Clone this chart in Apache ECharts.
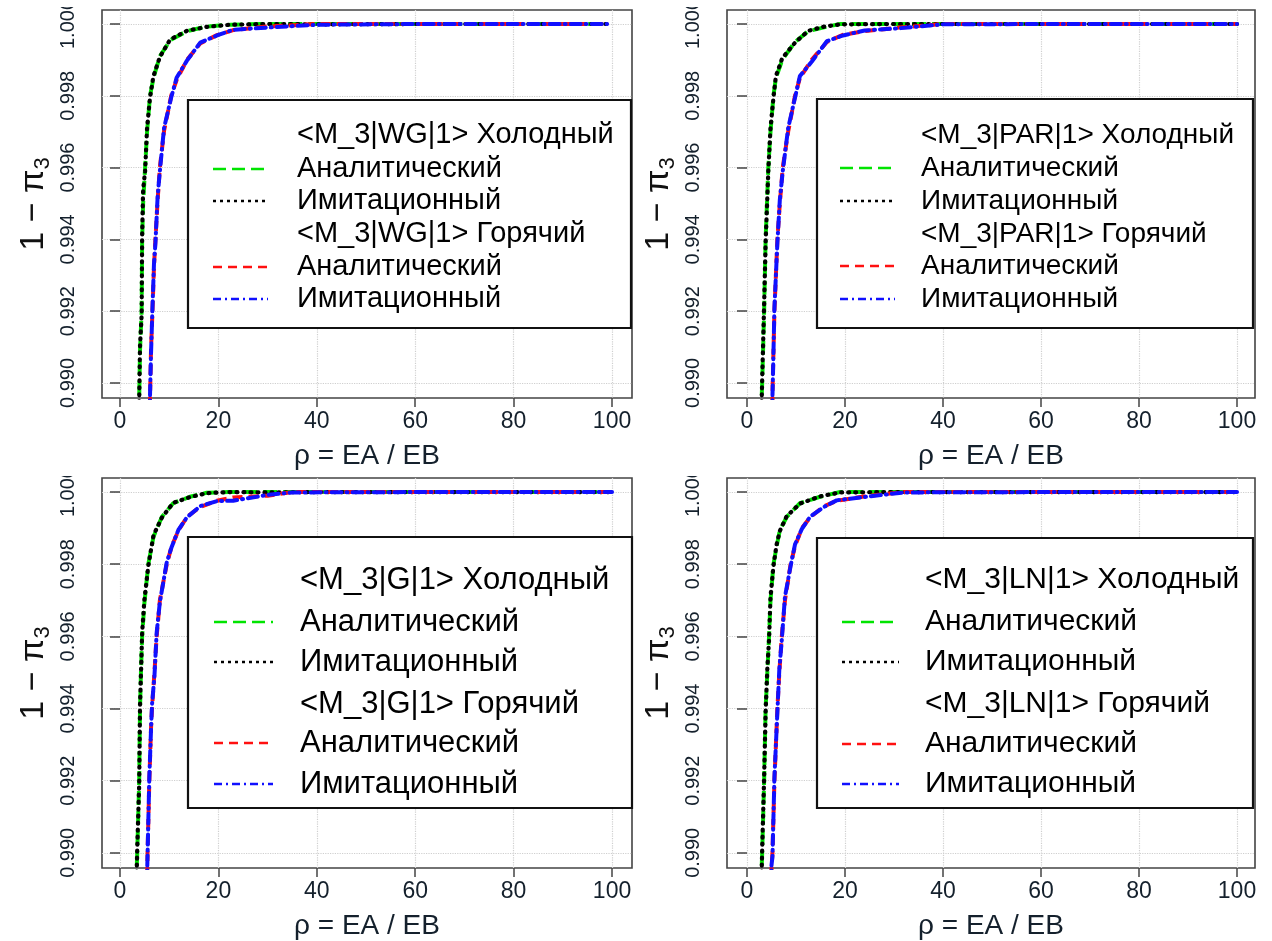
<!DOCTYPE html>
<html><head><meta charset="utf-8">
<script src="https://cdn.jsdelivr.net/npm/echarts@6/dist/echarts.min.js"></script>
<style>html,body{margin:0;padding:0;background:#fff}#c{width:1272px;height:941px}</style>
</head><body><div id="c"></div>
<script>
// ---------------- DATA ----------------
const xTicks = [0, 20, 40, 60, 80, 100];
const yTicks = [0.990, 0.992, 0.994, 0.996, 0.998, 1.000];

const coldTitles = ['<M_3|WG|1> Холодный', '<M_3|PAR|1> Холодный', '<M_3|G|1> Холодный', '<M_3|LN|1> Холодный'];
const hotTitles  = ['<M_3|WG|1> Горячий', '<M_3|PAR|1> Горячий', '<M_3|G|1> Горячий', '<M_3|LN|1> Горячий'];
const methodNames = ['Аналитический', 'Имитационный'];

// Panel 1: WG
const rhoColdWG = [3.7, 3.9, 4.07, 4.4, 4.5, 4.7, 5.1, 5.5, 6.1, 6.8, 8.1, 10.2, 13.6, 17.6, 22.4, 30, 40, 60, 80, 99];
const anaColdWG = [0.98800, 0.98958, 0.99092, 0.99200, 0.99400, 0.99500, 0.99600, 0.99700, 0.99800, 0.99850, 0.99910, 0.99955, 0.99980, 0.99993, 0.99998, 1.00000, 1.00000, 1.00000, 1.00000, 1.00000];
const simColdWG = [0.98790, 0.98950, 0.99105, 0.99190, 0.99410, 0.99540, 0.99590, 0.99710, 0.99795, 0.99855, 0.99908, 0.99957, 0.99981, 0.99992, 0.99998, 1.00000, 0.99999, 1.00000, 1.00000, 1.00000];
const rhoHotWG  = [5.9, 6.1, 6.3, 6.6, 6.9, 7.2, 7.65, 8.1, 8.95, 10.4, 11.5, 13.6, 16.3, 19.7, 23.0, 29.8, 40, 60, 80, 99];
const anaHotWG  = [0.98800, 0.98958, 0.99092, 0.99200, 0.99323, 0.99400, 0.99510, 0.99600, 0.99702, 0.99800, 0.99844, 0.99900, 0.99946, 0.99969, 0.99983, 0.99993, 1.00000, 1.00000, 1.00000, 1.00000];
const simHotWG  = [0.98790, 0.98965, 0.99080, 0.99210, 0.99330, 0.99390, 0.99520, 0.99590, 0.99710, 0.99795, 0.99850, 0.99898, 0.99948, 0.99968, 0.99984, 0.99990, 0.99998, 1.00000, 1.00000, 1.00000];

// Panel 2: PAR
const rhoColdPAR = [2.8, 3.0, 3.1, 3.5, 3.8, 4.35, 4.8, 5.4, 5.9, 7.2, 9.8, 12.5, 15.5, 19, 30, 40, 60, 80, 100];
const anaColdPAR = [0.98800, 0.98958, 0.99000, 0.99200, 0.99400, 0.99600, 0.99700, 0.99800, 0.99850, 0.99900, 0.99950, 0.99980, 0.99990, 1.00000, 1.00000, 1.00000, 1.00000, 1.00000, 1.00000];
const simColdPAR = [0.98790, 0.98950, 0.99010, 0.99220, 0.99390, 0.99590, 0.99710, 0.99795, 0.99855, 0.99905, 0.99948, 0.99981, 0.99992, 0.99999, 1.00000, 1.00000, 1.00000, 1.00000, 1.00000];
const rhoHotPAR  = [5.0, 5.2, 5.25, 5.6, 6.2, 6.7, 7.3, 8.4, 9.8, 10.8, 13.2, 16.3, 19.6, 24, 31, 40, 60, 80, 100];
const anaHotPAR  = [0.98800, 0.98958, 0.99000, 0.99200, 0.99400, 0.99500, 0.99600, 0.99700, 0.99800, 0.99850, 0.99900, 0.99950, 0.99970, 0.99980, 0.99990, 1.00000, 1.00000, 1.00000, 1.00000];
const simHotPAR  = [0.98790, 0.98965, 0.98990, 0.99210, 0.99390, 0.99510, 0.99590, 0.99710, 0.99795, 0.99855, 0.99895, 0.99952, 0.99968, 0.99982, 0.99988, 0.99999, 1.00000, 1.00000, 1.00000];

// Panel 3: G
const rhoColdG = [3.3, 3.4, 3.5, 3.9, 4.07, 4.27, 4.5, 4.95, 5.75, 6.8, 8.5, 10.8, 14.2, 17.6, 22, 30, 40, 60, 80, 100];
const anaColdG = [0.98800, 0.98958, 0.99000, 0.99200, 0.99400, 0.99506, 0.99600, 0.99691, 0.99800, 0.99876, 0.99931, 0.99969, 0.99987, 0.99998, 1.00000, 1.00000, 1.00000, 1.00000, 1.00000, 1.00000];
const simColdG = [0.98790, 0.98950, 0.99010, 0.99190, 0.99410, 0.99500, 0.99610, 0.99700, 0.99795, 0.99880, 0.99929, 0.99970, 0.99986, 0.99997, 1.00000, 0.99999, 1.00000, 1.00000, 1.00000, 1.00000];
const rhoHotG  = [5.45, 5.55, 5.6, 5.96, 6.3, 6.5, 7.0, 7.45, 8.1, 9.5, 10.5, 11.9, 13.6, 16.3, 19.7, 23, 30, 35, 60, 80, 100];
const anaHotG  = [0.98800, 0.98958, 0.99000, 0.99200, 0.99344, 0.99400, 0.99500, 0.99600, 0.99700, 0.99800, 0.99850, 0.99894, 0.99931, 0.99959, 0.99976, 0.99985, 0.99990, 1.00000, 1.00000, 1.00000, 1.00000];
const simHotG  = [0.98790, 0.98965, 0.98995, 0.99210, 0.99340, 0.99410, 0.99490, 0.99610, 0.99695, 0.99805, 0.99848, 0.99896, 0.99930, 0.99961, 0.99975, 0.99976, 0.99992, 0.99999, 1.00000, 1.00000, 1.00000];

// Panel 4: LN
const rhoColdLN = [2.9, 3.0, 3.1, 3.5, 3.8, 4.15, 4.5, 4.8, 5.4, 6.05, 6.7, 8.1, 10.8, 14.9, 19, 30, 40, 60, 80, 100];
const anaColdLN = [0.98800, 0.98958, 0.99000, 0.99200, 0.99400, 0.99500, 0.99600, 0.99700, 0.99800, 0.99850, 0.99894, 0.99931, 0.99969, 0.99987, 1.00000, 1.00000, 1.00000, 1.00000, 1.00000, 1.00000];
const simColdLN = [0.98790, 0.98950, 0.99010, 0.99210, 0.99390, 0.99510, 0.99590, 0.99710, 0.99795, 0.99855, 0.99892, 0.99933, 0.99968, 0.99988, 0.99999, 1.00000, 1.00000, 1.00000, 1.00000, 1.00000];
const rhoHotLN  = [4.9, 5.0, 5.2, 5.6, 6.2, 6.6, 7.1, 7.75, 8.9, 9.8, 11.2, 12.9, 15.6, 18.3, 25, 32, 60, 80, 100];
const anaHotLN  = [0.98800, 0.98958, 0.99000, 0.99200, 0.99400, 0.99500, 0.99600, 0.99700, 0.99800, 0.99850, 0.99900, 0.99930, 0.99960, 0.99976, 0.99990, 1.00000, 1.00000, 1.00000, 1.00000];
const simHotLN  = [0.98790, 0.98965, 0.98990, 0.99210, 0.99390, 0.99510, 0.99590, 0.99710, 0.99795, 0.99855, 0.99898, 0.99932, 0.99958, 0.99977, 0.99988, 0.99999, 1.00000, 1.00000, 1.00000];

// ---------------- LAYOUT ----------------
const panelData = [
  {rc: rhoColdWG,  ac: anaColdWG,  sc: simColdWG,  rh: rhoHotWG,  ah: anaHotWG,  sh: simHotWG},
  {rc: rhoColdPAR, ac: anaColdPAR, sc: simColdPAR, rh: rhoHotPAR, ah: anaHotPAR, sh: simHotPAR},
  {rc: rhoColdG,   ac: anaColdG,   sc: simColdG,   rh: rhoHotG,   ah: anaHotG,   sh: simHotG},
  {rc: rhoColdLN,  ac: anaColdLN,  sc: simColdLN,  rh: rhoHotLN,  ah: anaHotLN,  sh: simHotLN}
];
const layout = [
  {left: 102, top: 10,  width: 530, height: 388, xmin: -3.66, xmax: 104.06,
   lg: {x: 188, y: 100, w: 443, h: 228, tx: 297, s1: 213, s2: 268, fs: 29, rows: [135, 169, 201, 234, 267, 299]}, clipY: [0, 7]},
  {left: 727, top: 10,  width: 528, height: 388, xmin: -4.08, xmax: 103.67,
   lg: {x: 817, y: 99, w: 436, h: 229, tx: 921, s1: 840, s2: 895, fs: 28, rows: [135, 168, 201, 234, 266, 299]}, clipY: [0, 7]},
  {left: 102, top: 478, width: 530, height: 390, xmin: -3.66, xmax: 104.06,
   lg: {x: 188, y: 537, w: 444, h: 271, tx: 300, s1: 214, s2: 273, fs: 31, rows: [580, 622, 662, 704, 743, 784]}, clipY: [455, 476]},
  {left: 727, top: 478, width: 528, height: 390, xmin: -4.08, xmax: 103.67,
   lg: {x: 817, y: 538, w: 436, h: 270, tx: 925, s1: 842, s2: 899, fs: 30, rows: [580, 622, 662, 704, 744, 784]}, clipY: [455, 476]}
];

const FONT = "'Liberation Sans', Arial, sans-serif";
const styles = {
  green: {color: '#00e400', width: 4, type: [14, 6]},
  black: {color: '#000000', width: 4.2, type: [1, 6], cap: 'round'},
  red:   {color: '#ff1010', width: 4, type: [10, 6]},
  blue:  {color: '#1010ff', width: 4, type: [10, 5, 1, 5], cap: 'round'}
};
const legendDash = {green: [13, 6], black: [3, 4], red: [9, 6], blue: [8, 4, 2, 4]};
const zip = (xs, ys) => xs.map((x, i) => [x, ys[i]]);

const grids = [], xAxes = [], yAxes = [], series = [], graphics = [];
layout.forEach((L, i) => {
  grids.push({left: L.left, top: L.top, width: L.width, height: L.height, show: true,
    borderColor: '#444', borderWidth: 1.6, backgroundColor: 'transparent', containLabel: false, outerBoundsMode: 'none'});
  xAxes.push({type: 'value', gridIndex: i, min: L.xmin, max: L.xmax,
    axisLine: {show: false},
    axisTick: {show: true, inside: false, length: 9, customValues: xTicks, lineStyle: {color: '#444', width: 1.5}},
    axisLabel: {customValues: xTicks, fontFamily: FONT, fontSize: 23, color: '#14202c', margin: 12},
    splitLine: {show: true, lineStyle: {color: '#cfcfcf', type: 'dotted', width: 1.2}},
    name: 'ρ = EA / EB', nameLocation: 'middle', nameGap: 44,
    nameTextStyle: {fontFamily: FONT, fontSize: 28, color: '#14202c'}
  });
  yAxes.push({type: 'value', gridIndex: i, min: 0.98958, max: 1.00039,
    axisLine: {show: false},
    axisTick: {show: true, inside: false, length: 10, customValues: yTicks, lineStyle: {color: '#444', width: 1.5}},
    axisLabel: {customValues: yTicks, rotate: 90, fontFamily: FONT, fontSize: 20, color: '#14202c', margin: 24,
      formatter: v => v.toFixed(3)},
    splitLine: {show: true, lineStyle: {color: '#cfcfcf', type: 'dotted', width: 1.2}},
    name: '{a|1 − π}{b|3}', nameLocation: 'middle', nameRotate: 90, nameGap: 48,
    nameTextStyle: {rich: {
      a: {fontFamily: FONT, fontSize: 34, color: '#111', lineHeight: 40},
      b: {fontFamily: FONT, fontSize: 22, color: '#111', lineHeight: 40, verticalAlign: 'bottom'}
    }}
  });
  const d = panelData[i];
  const mk = (name, data, st, z) => ({
    name, type: 'line', xAxisIndex: i, yAxisIndex: i, data, showSymbol: false, symbol: 'none',
    lineStyle: st, z, clip: true, animation: false, silent: true
  });
  series.push(mk('ana_cold_' + i, zip(d.rc, d.ac), styles.green, 2));
  series.push(mk('sim_cold_' + i, zip(d.rc, d.sc), styles.black, 3));
  series.push(mk('ana_hot_' + i, zip(d.rh, d.ah), styles.red, 4));
  series.push(mk('sim_hot_' + i, zip(d.rh, d.sh), styles.blue, 5));

  // legend box
  const g = L.lg;
  graphics.push({type: 'rect', z: 50, shape: {x: g.x, y: g.y, width: g.w, height: g.h},
    style: {fill: '#fff', stroke: '#111', lineWidth: 2.2}});
  const texts = [coldTitles[i], methodNames[0], methodNames[1], hotTitles[i], methodNames[0], methodNames[1]];
  texts.forEach((t, k) => {
    graphics.push({type: 'text', z: 51, x: g.tx, y: g.rows[k],
      style: {text: t, font: g.fs + 'px ' + FONT, fill: '#000', verticalAlign: 'middle', align: 'left'}});
  });
  const sampleRows = [[1, 'green'], [2, 'black'], [4, 'red'], [5, 'blue']];
  sampleRows.forEach(([k, key]) => {
    graphics.push({type: 'line', z: 51, shape: {x1: g.s1, y1: g.rows[k], x2: g.s2, y2: g.rows[k]},
      style: {stroke: styles[key].color, lineWidth: 2.6, lineDash: legendDash[key]}});
  });
  // clip the top label like the original
  graphics.push({type: 'rect', z: 60, shape: {x: L.left - 60, y: L.clipY[0], width: 45, height: L.clipY[1] - L.clipY[0]},
    style: {fill: '#fff'}});
});

const chart = echarts.init(document.getElementById('c'), null, {renderer: 'canvas'});
chart.setOption({
  backgroundColor: '#ffffff',
  animation: false,
  grid: grids, xAxis: xAxes, yAxis: yAxes, series: series,
  graphic: graphics
});
</script>
</body></html>
